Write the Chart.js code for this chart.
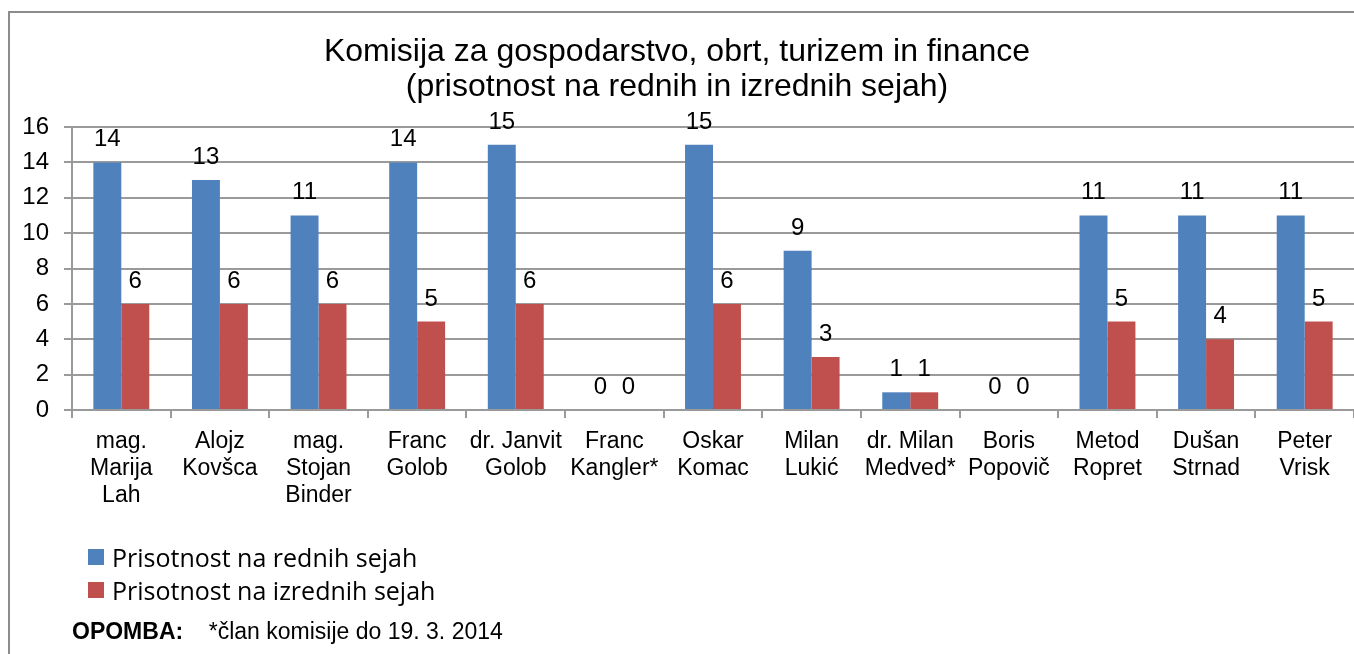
<!DOCTYPE html>
<html>
<head>
<meta charset="utf-8">
<script src="https://cdn.jsdelivr.net/npm/chart.js@4"></script>
<style>
  html, body { margin: 0; padding: 0; background: #fff; overflow: hidden; }
  #wrap { position: relative; width: 1354px; height: 654px; overflow: hidden; }
  #frame { position: absolute; left: 8px; top: 11px; width: 2000px; height: 2000px;
           border: 2px solid #8c8c8c; box-sizing: border-box; }
  #chart { position: absolute; left: 0; top: 0; }
  #legend { position: absolute; left: 88px; top: 540px; font-family: "Open Sans", sans-serif;
            font-size: 25px; color: #000; }
  .item { display: flex; align-items: center; height: 33px; }
  .box { width: 16px; height: 16px; margin-right: 8px; }
  #note { position: absolute; left: 72px; top: 618px; font-family: Arial, "Liberation Sans", sans-serif;
          font-size: 23px; color: #000; white-space: pre; }
</style>
</head>
<body>
<div id="wrap">
  <div id="frame"></div>
  <canvas id="chart" width="1354" height="654"></canvas>
  <div id="legend"></div>
  <div id="note"><b>OPOMBA:</b>    *član komisije do 19. 3. 2014</div>
</div>
<script>
// === data ===
const members = [
  ["mag.", "Marija", "Lah"],
  ["Alojz", "Kovšca"],
  ["mag.", "Stojan", "Binder"],
  ["Franc", "Golob"],
  ["dr. Janvit", "Golob"],
  ["Franc", "Kangler*"],
  ["Oskar", "Komac"],
  ["Milan", "Lukić"],
  ["dr. Milan", "Medved*"],
  ["Boris", "Popovič"],
  ["Metod", "Ropret"],
  ["Dušan", "Strnad"],
  ["Peter", "Vrisk"]
];
const regular = [14, 13, 11, 14, 15, 0, 15, 9, 1, 0, 11, 11, 11];
const extraordinary = [6, 6, 6, 5, 6, 0, 6, 3, 1, 0, 5, 4, 5];
const seriesNames = ["Prisotnost na rednih sejah", "Prisotnost na izrednih sejah"];
const seriesColors = ["#4F81BD", "#C0504D"];
const titleLines = ["Komisija za gospodarstvo, obrt, turizem in finance", "(prisotnost na rednih in izrednih sejah)"];

Chart.defaults.font.family = 'Arial, "Liberation Sans", sans-serif';
Chart.defaults.color = "#000";

// value labels above each bar
const valueLabels = {
  id: "valueLabels",
  afterDatasetsDraw(chart) {
    const ctx = chart.ctx;
    ctx.save();
    ctx.font = '24px Arial, "Liberation Sans", sans-serif';
    ctx.fillStyle = "#000";
    ctx.textAlign = "center";
    ctx.textBaseline = "alphabetic";
    chart.data.datasets.forEach((ds, i) => {
      chart.getDatasetMeta(i).data.forEach((bar, j) => {
        ctx.fillText(String(ds.data[j]), bar.x, bar.y - 16);
      });
    });
    ctx.restore();
  }
};

const gridColor = "#9a9a9a";

new Chart(document.getElementById("chart"), {
  type: "bar",
  data: {
    labels: members,
    datasets: [
      { label: seriesNames[0], data: regular, backgroundColor: seriesColors[0] },
      { label: seriesNames[1], data: extraordinary, backgroundColor: seriesColors[1] }
    ]
  },
  options: {
    responsive: false,
    animation: false,
    layout: { padding: { left: 0, right: 0, top: 0, bottom: 135 } },
    datasets: { bar: { categoryPercentage: 0.567, barPercentage: 1.0 } },
    scales: {
      x: {
        grid: { drawOnChartArea: false, drawTicks: true, tickLength: 8, color: gridColor, lineWidth: 2 },
        border: { display: true, color: gridColor, width: 2 },
        ticks: {
          autoSkip: false, maxRotation: 0, minRotation: 0, padding: 10,
          font: { size: 23, lineHeight: 27 / 23 }, color: "#000"
        }
      },
      y: {
        min: 0, max: 16,
        afterFit: (scale) => { scale.width = 72; },
        grid: { color: gridColor, lineWidth: 2, tickLength: 8 },
        border: { display: true, color: gridColor, width: 2 },
        ticks: { stepSize: 2, padding: 15, font: { size: 24 }, color: "#000" }
      }
    },
    plugins: {
      legend: { display: false },
      tooltip: { enabled: false },
      title: {
        display: true,
        text: titleLines,
        color: "#000",
        font: { size: 32, weight: "normal", lineHeight: 35 / 32 },
        padding: { top: 35, bottom: 22 }
      }
    }
  },
  plugins: [valueLabels]
});

// legend, from the same series arrays
const legend = document.getElementById("legend");
seriesNames.forEach((name, i) => {
  const row = document.createElement("div");
  row.className = "item";
  row.innerHTML = '<span class="box" style="background:' + seriesColors[i] + '"></span><span>' + name + "</span>";
  legend.appendChild(row);
});
</script>
</body>
</html>
